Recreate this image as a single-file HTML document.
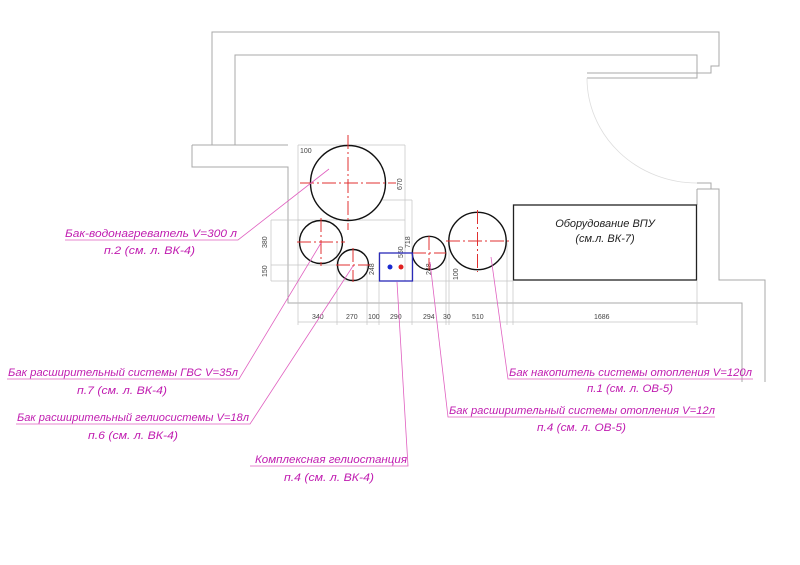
<!DOCTYPE html>
<html><head><meta charset="utf-8"><style>
html,body{margin:0;padding:0;background:#fff;width:800px;height:565px;overflow:hidden}
svg{display:block}
.w{stroke:#a8a8a8;stroke-width:1;fill:none}
.g{stroke:#c4c4c4;stroke-width:0.7;fill:none}
.c{stroke:#111;stroke-width:1.4;fill:none}
.r{stroke:#e03030;stroke-width:1;stroke-dasharray:14 3 2 3;fill:none}
.m{stroke:#e060c0;stroke-width:0.8;fill:none}
.mt{fill:#c01cb0;font-family:"Liberation Sans",sans-serif;font-style:italic;font-size:11px}
.d{fill:#444;font-family:"Liberation Sans",sans-serif;font-size:7px}
</style></head><body>
<svg width="800" height="565" viewBox="0 0 800 565" xmlns="http://www.w3.org/2000/svg">
<!-- walls -->
<polyline class="w" points="192,145 212,145 212,32 719,32 719,66 711,66 711,73 587,73"/>
<polyline class="w" points="192,145 192,167 288,167 288,303 742,303 742,382"/>
<polyline class="w" points="235,145 235,55 697,55 697,78 587,78"/>
<line class="w" x1="212" y1="145" x2="288" y2="145"/>
<path d="M587,78 A110,105 0 0 0 697,183" stroke="#ddd" stroke-width="0.8" fill="none"/>
<polyline class="w" points="697,183 711,183 711,189 719,189 719,280 765,280 765,382"/>
<polyline class="w" points="697,189 711,189"/>
<line class="w" x1="697" y1="189" x2="697" y2="205"/>
<!-- grid / dimension lines -->
<line class="g" x1="298" y1="145" x2="405" y2="145"/>
<line class="g" x1="298" y1="220" x2="405" y2="220"/>
<line class="g" x1="380" y1="200" x2="412" y2="200"/>
<line class="g" x1="271" y1="220" x2="300" y2="220"/>
<line class="g" x1="271" y1="265" x2="340" y2="265"/>
<line class="g" x1="271" y1="281" x2="513" y2="281"/>
<line class="g" x1="271" y1="220" x2="271" y2="281"/>
<line class="g" x1="298" y1="145" x2="298" y2="325"/>
<line class="g" x1="405" y1="145" x2="405" y2="281"/>
<line class="g" x1="412" y1="200" x2="412" y2="325"/>
<line class="g" x1="337" y1="242" x2="337" y2="325"/>
<line class="g" x1="367" y1="265" x2="367" y2="325"/>
<line class="g" x1="379" y1="253" x2="379" y2="325"/>
<line class="g" x1="446" y1="253" x2="446" y2="325"/>
<line class="g" x1="449" y1="241" x2="449" y2="325"/>
<line class="g" x1="507" y1="241" x2="507" y2="325"/>
<line class="g" x1="513" y1="281" x2="513" y2="325"/>
<line class="g" x1="697" y1="281" x2="697" y2="325"/>
<line class="g" x1="298" y1="322" x2="697" y2="322"/>
<g class="d">
<text x="312" y="319">340</text><text x="346" y="319">270</text><text x="368" y="319">100</text>
<text x="390" y="319">290</text><text x="423" y="319">294</text><text x="443" y="319">30</text>
<text x="472" y="319">510</text><text x="594" y="319">1686</text>
<text x="300" y="153">100</text>
<text transform="translate(402,190) rotate(-90)">670</text>
<text transform="translate(410,248) rotate(-90)">718</text>
<text transform="translate(403,258) rotate(-90)">550</text>
<text transform="translate(267,248) rotate(-90)">380</text>
<text transform="translate(267,277) rotate(-90)">150</text>
<text transform="translate(374,275) rotate(-90)">248</text>
<text transform="translate(431,275) rotate(-90)">248</text>
<text transform="translate(458,280) rotate(-90)">100</text>
</g>
<!-- tanks -->
<circle class="c" cx="348" cy="183" r="37.5"/>
<line class="r" x1="300" y1="183" x2="396" y2="183"/><line class="r" x1="348" y1="135" x2="348" y2="230"/>
<circle class="c" cx="321" cy="242" r="21.5"/>
<line class="r" x1="297" y1="242" x2="345" y2="242"/><line class="r" x1="321" y1="218" x2="321" y2="266"/>
<circle class="c" cx="353" cy="265" r="15.5"/>
<line class="r" x1="336" y1="265" x2="370" y2="265"/><line class="r" x1="353" y1="248" x2="353" y2="282"/>
<circle class="c" cx="429" cy="253" r="16.7"/>
<line class="r" x1="412" y1="253" x2="446" y2="253"/><line class="r" x1="429" y1="236" x2="429" y2="270"/>
<circle class="c" cx="477.5" cy="241" r="28.7"/>
<line class="r" x1="446" y1="241" x2="509" y2="241"/><line class="r" x1="477.5" y1="210" x2="477.5" y2="272"/>
<rect x="379.5" y="253" width="33" height="28" fill="none" stroke="#2a2ab8" stroke-width="1.3"/>
<circle cx="390" cy="267" r="2.5" fill="#1a2ad0"/><circle cx="401" cy="267" r="2.5" fill="#e02020"/>
<rect x="513.5" y="205" width="183" height="75" fill="none" stroke="#222" stroke-width="1.3"/>
<text x="605" y="227" text-anchor="middle" font-family="Liberation Sans,sans-serif" font-style="italic" font-size="11" fill="#222">Оборудование ВПУ</text>
<text x="605" y="242" text-anchor="middle" font-family="Liberation Sans,sans-serif" font-style="italic" font-size="11" fill="#222">(см.л. ВК-7)</text>
<!-- leaders -->
<polyline class="m" points="65,240 238,240 329,169"/>
<polyline class="m" points="7,379 239,379 321,243"/>
<polyline class="m" points="16,424 250,424 353,266"/>
<polyline class="m" points="250,466 408,466 397,282"/>
<polyline class="m" points="753,379 508,379 491,257"/>
<polyline class="m" points="715,417 448,417 430,262"/>
<g class="mt">
<text x="65" y="237" textLength="172" lengthAdjust="spacingAndGlyphs">Бак-водонагреватель V=300 л</text>
<text x="104" y="254" textLength="91" lengthAdjust="spacingAndGlyphs">п.2 (см. л. ВК-4)</text>
<text x="8" y="376" textLength="230" lengthAdjust="spacingAndGlyphs">Бак расширительный системы ГВС V=35л</text>
<text x="77" y="394" textLength="90" lengthAdjust="spacingAndGlyphs">п.7 (см. л. ВК-4)</text>
<text x="17" y="421" textLength="232" lengthAdjust="spacingAndGlyphs">Бак расширительный гелиосистемы V=18л</text>
<text x="88" y="439" textLength="90" lengthAdjust="spacingAndGlyphs">п.6 (см. л. ВК-4)</text>
<text x="255" y="463" textLength="152" lengthAdjust="spacingAndGlyphs">Комплексная гелиостанция</text>
<text x="284" y="481" textLength="90" lengthAdjust="spacingAndGlyphs">п.4 (см. л. ВК-4)</text>
<text x="509" y="376" textLength="243" lengthAdjust="spacingAndGlyphs">Бак накопитель системы отопления V=120л</text>
<text x="587" y="392" textLength="86" lengthAdjust="spacingAndGlyphs">п.1 (см. л. ОВ-5)</text>
<text x="449" y="414" textLength="266" lengthAdjust="spacingAndGlyphs">Бак расширительный системы отопления V=12л</text>
<text x="537" y="431" textLength="89" lengthAdjust="spacingAndGlyphs">п.4 (см. л. ОВ-5)</text>
</g>
</svg>
</body></html>
